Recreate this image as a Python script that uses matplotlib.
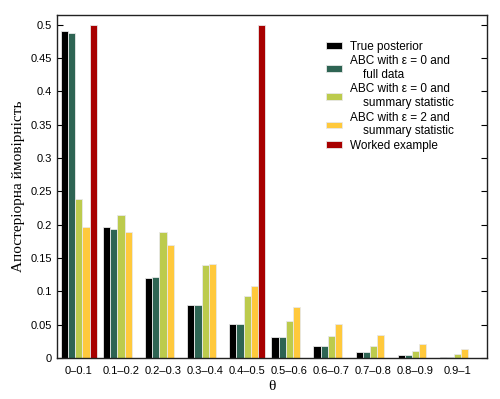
import numpy as np
import matplotlib.pyplot as plt

# bins of theta
categories = ['0–0.1', '0.1–0.2', '0.2–0.3', '0.3–0.4', '0.4–0.5',
              '0.5–0.6', '0.6–0.7', '0.7–0.8', '0.8–0.9', '0.9–1']

true_post = [0.490, 0.197, 0.120, 0.079, 0.051, 0.032, 0.018, 0.0095, 0.005, 0.002]
abc_full = [0.488, 0.194, 0.121, 0.079, 0.051, 0.032, 0.018, 0.0095, 0.005, 0.002]
abc_sum0 = [0.239, 0.214, 0.189, 0.140, 0.093, 0.056, 0.033, 0.018, 0.011, 0.006]
abc_sum2 = [0.197, 0.189, 0.170, 0.141, 0.108, 0.077, 0.051, 0.0345, 0.021, 0.014]
worked = [0.5, 0, 0, 0, 0.5, 0, 0, 0, 0, 0]

labels = ['True posterior',
          'ABC with ε = 0 and\n    full data',
          'ABC with ε = 0 and\n    summary statistic',
          'ABC with ε = 2 and\n    summary statistic',
          'Worked example']
colors = ['#000000', '#2e6453', '#bccb4d', '#ffc93c', '#a80000']

plt.rcParams['font.family'] = ['Liberation Sans', 'DejaVu Sans']

fig = plt.figure(figsize=(5, 3.99), dpi=100)
ax = fig.add_axes([0.114, 0.103, 0.860, 0.860])

x = np.arange(len(categories))
w = 0.17
series = [true_post, abc_full, abc_sum0, abc_sum2, worked]
for i, (vals, c, lab) in enumerate(zip(series, colors, labels)):
    ax.bar(x + (i - 2) * w, vals, width=w, color=c, edgecolor='#e8e8e8',
           linewidth=0.6, label=lab)

ax.set_xlim(-0.52, 9.7)
ax.set_ylim(0, 0.515)
ax.set_yticks(np.arange(0, 0.51, 0.05))
ax.set_yticklabels(['%g' % round(v, 2) for v in np.arange(0, 0.51, 0.05)])
ax.set_xticks(x)
ax.set_xticklabels(categories)
ax.tick_params(axis='y', direction='in', right=True, length=4, labelsize=8)
ax.tick_params(axis='x', length=0, labelsize=8, pad=6)
for s in ax.spines.values():
    s.set_linewidth(1.0)
    s.set_color('#222222')

ax.set_ylabel('Апостеріорна ймовірність', family='Liberation Serif', fontsize=11)
ax.set_xlabel('θ', family='Liberation Serif', fontsize=11, labelpad=3)

ax.legend(loc='upper left', bbox_to_anchor=(0.60, 0.955), frameon=False,
          fontsize=8.5, handlelength=1.4, handleheight=0.45,
          labelspacing=0.2, handletextpad=0.7)

fig.savefig('out.png', dpi=100)
